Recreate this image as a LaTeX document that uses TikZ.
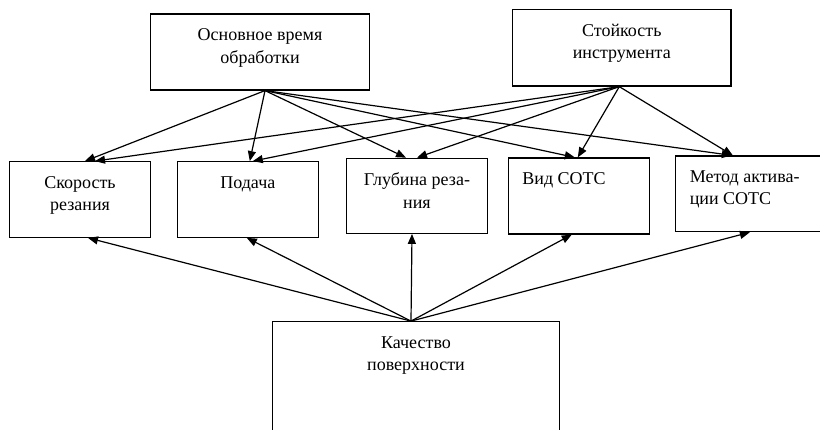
\documentclass[tikz,border=0pt]{standalone}
\usepackage{fontspec}
\setmainfont{Liberation Serif}
\usetikzlibrary{arrows.meta, positioning}

\tikzset{
  box/.style={draw, line width=1.2pt, inner sep=0pt},
  lbl/.style={anchor=north, align=center, inner sep=0pt, yshift=-15pt,
    font=\fontsize{18}{22.5}\selectfont},
  lbll/.style={lbl, anchor=north west, align=left, xshift=14.5pt},
  arr/.style={line width=1.2pt, -{Triangle[length=10pt,width=8pt]}},
}

\begin{document}
\begin{tikzpicture}[x=1pt, y=-1pt]
        \useasboundingbox (0,0) rectangle (820,430);
        % Top
        \node[box, minimum width=218.6pt, minimum height=76pt,
          label={[lbl]north:Основное время\\обработки}] (osn) at (260,52) {};
        \node[box, minimum width=218.3pt, minimum height=76.7pt,
          label={[lbl]north:Стойкость\\инструмента}] (stoy) at (621.8,47.7) {};
        % Middle
        \node[box, minimum width=141.4pt, minimum height=75.6pt,
          label={[lbl]north:Скорость\\резания}] (skor) at (80,199.5) {};
        \node[box, minimum width=141pt, minimum height=75.6pt,
          label={[lbl]north:Подача}] (pod) at (247.8,199.5) {};
        \node[box, minimum width=140.6pt, minimum height=75pt,
          label={[lbl]north:Глубина реза-\\ния}] (glub) at (417,195.8) {};
        \node[box, minimum width=141pt, minimum height=76pt,
          label={[lbll]north west:Вид СОТС}] (vid) at (578.8,196) {};
        \node[box, minimum width=154.3pt, minimum height=75.7pt,
          label={[lbll]north west:Метод актива-\\ции СОТС}] (met) at (752.85,193.85) {};
        % Bottom
        \node[box, minimum width=286.6pt, minimum height=118.3pt,
          label={[lbl]north:Качество\\поверхности}] (kach) at (416,380.85) {};
        % Arrows
        \draw[arr] ([xshift=5pt]osn.south) -- ([xshift=5pt]skor.north);
        \draw[arr] ([xshift=5pt]osn.south) -- ([xshift=2pt]pod.north);
        \draw[arr] ([xshift=5pt]osn.south) -- ([xshift=-11pt]glub.north);
        \draw[arr] ([xshift=5pt]osn.south) -- ([xshift=-4pt]vid.north);
        \draw[arr] ([xshift=5pt]osn.south) -- ([xshift=-21pt]met.north);
        \draw[arr] ([xshift=-2.5pt]stoy.south) -- ([xshift=15pt]skor.north);
        \draw[arr] ([xshift=-2.5pt]stoy.south) -- ([xshift=5pt]pod.north);
        \draw[arr] ([xshift=-2.5pt]stoy.south) -- (glub.north);
        \draw[arr] ([xshift=-2.5pt]stoy.south) -- ([xshift=-1pt]vid.north);
        \draw[arr] ([xshift=-2.5pt]stoy.south) -- ([xshift=-20pt]met.north);
        \draw[arr] ([xshift=-5pt]kach.north) -- ([xshift=8pt]skor.south);
        \draw[arr] ([xshift=-5pt]kach.north) -- ([xshift=-1pt]pod.south);
        \draw[arr] ([xshift=-5pt]kach.north) -- ([xshift=-5pt]glub.south);
        \draw[arr] ([xshift=-5pt]kach.north) -- ([xshift=-7pt]vid.south);
        \draw[arr] ([xshift=-5pt]kach.north) -- ([xshift=-3pt]met.south);
    \end{tikzpicture}
\end{document}
